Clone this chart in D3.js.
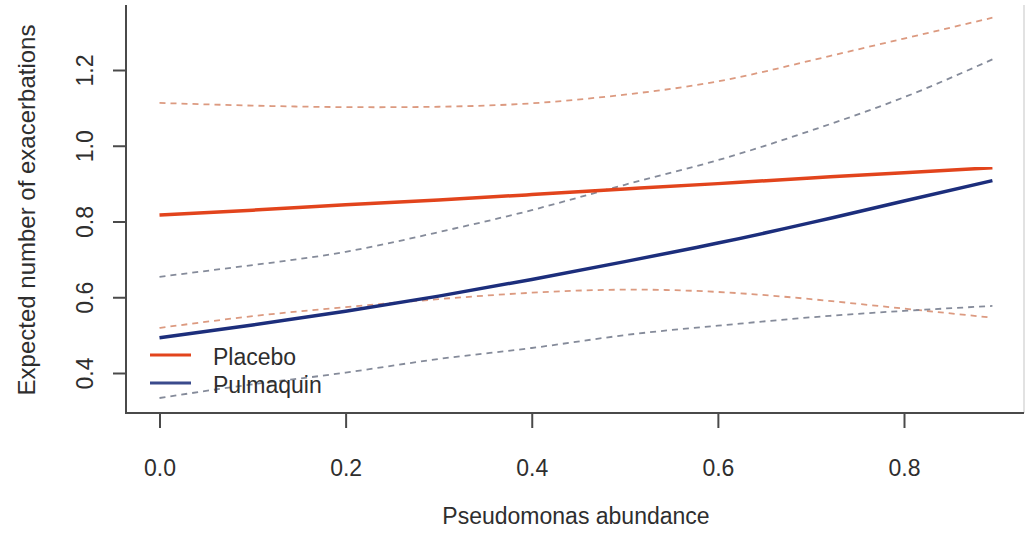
<!DOCTYPE html>
<html>
<head>
<meta charset="utf-8">
<script src="https://cdn.jsdelivr.net/npm/d3@7/dist/d3.min.js"></script>
<style>
  html, body { margin: 0; padding: 0; background: #fff; }
  svg { display: block; }
  text { font-family: "Liberation Sans", Arial, sans-serif; fill: #2e2e2e; }
</style>
</head>
<body>
<svg id="chart" width="1026" height="535"></svg>
<script>
// ---- data ----
const abundance = [0, 0.1, 0.2, 0.3, 0.4, 0.5, 0.6, 0.7, 0.8, 0.895];
const placebo = [0.817, 0.830, 0.844, 0.857, 0.871, 0.886, 0.900, 0.915, 0.929, 0.942];
const placeboUpper = [1.113, 1.106, 1.102, 1.103, 1.112, 1.135, 1.170, 1.225, 1.283, 1.338];
const placeboLower = [0.519, 0.550, 0.574, 0.595, 0.612, 0.620, 0.614, 0.595, 0.570, 0.546];
const pulmaquin = [0.493, 0.527, 0.563, 0.603, 0.647, 0.694, 0.743, 0.797, 0.854, 0.908];
const pulmaquinUpper = [0.654, 0.685, 0.720, 0.772, 0.830, 0.897, 0.962, 1.040, 1.128, 1.228];
const pulmaquinLower = [0.334, 0.370, 0.401, 0.437, 0.466, 0.500, 0.525, 0.547, 0.564, 0.577];
const xTicks = [0, 0.2, 0.4, 0.6, 0.8];
const yTicks = [0.4, 0.6, 0.8, 1.0, 1.2];
const legendLabels = ["Placebo", "Pulmaquin"];
const xTitle = "Pseudomonas abundance";
const yTitle = "Expected number of exacerbations";

// ---- layout ----
const svg = d3.select("#chart");
const plotLeft = 126, plotRight = 1024, plotTop = 5, plotBottom = 413;
const x = d3.scaleLinear().domain([0, 0.8]).range([159.5, 904]);
const y = d3.scaleLinear().domain([0.4, 1.2]).range([373, 70]);

const colPlacebo = "#e2441c";
const colPulm = "#1c2e7c";
const colPlaceboCI = "#dc9a80";
const colPulmCI = "#858b9a";

// box / axes lines
svg.append("line").attr("x1", plotRight).attr("x2", plotRight).attr("y1", plotTop).attr("y2", plotBottom)
  .attr("stroke", "#d8d8d8").attr("stroke-width", 1.5);
svg.append("line").attr("x1", plotLeft).attr("x2", plotLeft).attr("y1", plotTop).attr("y2", plotBottom + 1)
  .attr("stroke", "#4a4a4a").attr("stroke-width", 2);
svg.append("line").attr("x1", plotLeft - 1).attr("x2", plotRight).attr("y1", plotBottom).attr("y2", plotBottom)
  .attr("stroke", "#4a4a4a").attr("stroke-width", 2);

// x axis
const xAxis = d3.axisBottom(x).tickValues(xTicks).tickFormat(d3.format(".1f")).tickSize(15).tickPadding(0);
const gx = svg.append("g").attr("transform", `translate(0,${plotBottom})`).call(xAxis);
gx.select(".domain").remove();
gx.selectAll(".tick line").attr("stroke", "#4a4a4a").attr("stroke-width", 2);
gx.selectAll(".tick text").attr("y", 63).attr("dy", null).style("font-size", "23px").attr("fill", "#2e2e2e");

// y axis
const yAxis = d3.axisLeft(y).tickValues(yTicks).tickFormat(d3.format(".1f")).tickSize(13);
const gy = svg.append("g").attr("transform", `translate(${plotLeft},0)`).call(yAxis);
gy.select(".domain").remove();
gy.selectAll(".tick line").attr("stroke", "#4a4a4a").attr("stroke-width", 2);
gy.selectAll(".tick text")
  .attr("x", null).attr("dy", null)
  .attr("text-anchor", "middle")
  .attr("transform", "translate(-33,0) rotate(-90)")
  .style("font-size", "23px").attr("fill", "#2e2e2e");

// titles
svg.append("text").attr("x", 576).attr("y", 524).attr("text-anchor", "middle")
  .style("font-size", "23px").text(xTitle);
svg.append("text").attr("transform", "translate(35,210) rotate(-90)").attr("text-anchor", "middle")
  .style("font-size", "24px").text(yTitle);

// lines
const line = d3.line().x((d, i) => x(abundance[i])).y(d => y(d)).curve(d3.curveNatural);
const series = [
  { v: placeboUpper, c: colPlaceboCI, w: 1.8, dash: "6,5" },
  { v: placeboLower, c: colPlaceboCI, w: 1.8, dash: "6,5" },
  { v: pulmaquinUpper, c: colPulmCI, w: 1.8, dash: "6,5" },
  { v: pulmaquinLower, c: colPulmCI, w: 1.8, dash: "6,5" },
  { v: placebo, c: colPlacebo, w: 3.5, dash: null },
  { v: pulmaquin, c: colPulm, w: 3.5, dash: null }
];
svg.append("g").selectAll("path").data(series).join("path")
  .attr("d", d => line(d.v))
  .attr("fill", "none")
  .attr("stroke", d => d.c)
  .attr("stroke-width", d => d.w)
  .attr("stroke-dasharray", d => d.dash);

// legend
const legColors = [colPlacebo, "#3a4a8c"];
const legY = [355, 383];
const leg = svg.append("g");
legendLabels.forEach((lab, i) => {
  leg.append("line").attr("x1", 150).attr("x2", 191).attr("y1", legY[i]).attr("y2", legY[i])
    .attr("stroke", legColors[i]).attr("stroke-width", 2.8);
  leg.append("text").attr("x", 213).attr("y", legY[i] + 10).style("font-size", "23px").text(lab);
});
</script>
</body>
</html>
